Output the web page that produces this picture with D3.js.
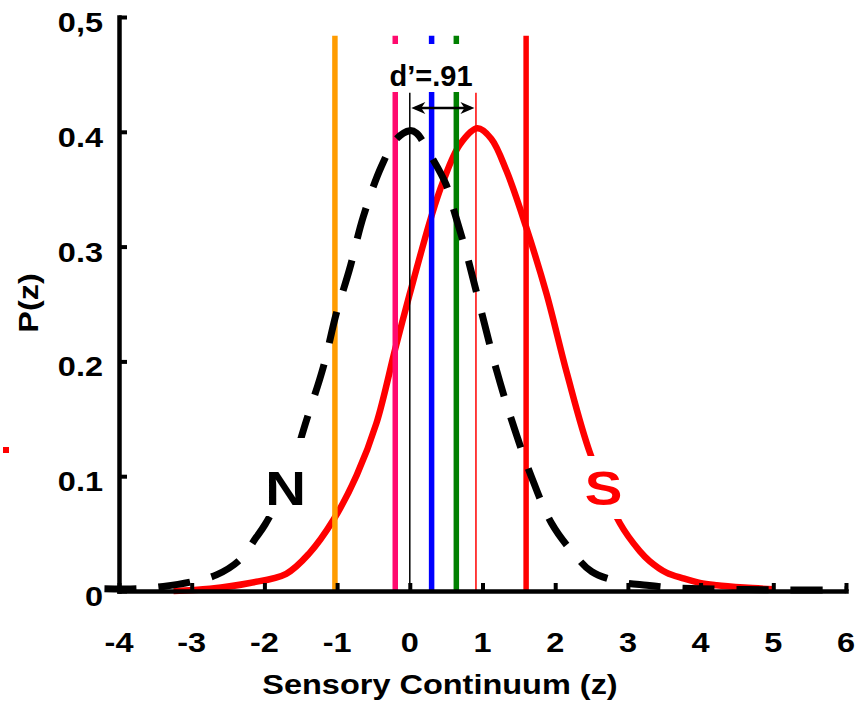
<!DOCTYPE html>
<html lang="en">
  <head>
    <meta charset="UTF-8" />
    <title>Signal detection: N and S distributions</title>
    <script src="https://d3js.org/d3.v7.min.js"></script>
    <style>
      body { margin: 0; background: #fff; }
      text { font-family: "Liberation Sans", Arial, sans-serif; font-weight: bold; }
      .axis path, .axis line { stroke: #000; }
      .axis path { stroke-width: 4.5; stroke-linecap: square; }
      .axis line { stroke-width: 4; }
    </style>
  </head>
  <body>
    <svg width="867" height="704"></svg>
    <script>
      // ticks
      const zTicks = [-4, -3, -2, -1, 0, 1, 2, 3, 4, 5, 6];
      const zTickLabels = ["-4", "-3", "-2", "-1", "0", "1", "2", "3", "4", "5", "6"];
      const pTicks = [0, 0.1, 0.2, 0.3, 0.4, 0.5];
      const pTickLabels = ["0", "0.1", "0.2", "0.3", "0.4", "0,5"];

      // noise distribution (dashed black)
      const nZ = [-4.2, -3.76, -3.39, -3.0, -2.66, -2.34, -2.11, -1.99, -1.7, -1.42, -1.19, -1.01, -0.83, -0.64, -0.39, -0.18, 0.0, 0.09, 0.3, 0.5, 0.6, 0.78, 0.99, 1.19, 1.4, 1.67, 1.95, 2.25, 2.5, 2.89, 3.26, 3.6, 4.0, 5.0, 6.0];
      const nP = [0.002, 0.002, 0.004, 0.008, 0.014, 0.027, 0.047, 0.058, 0.094, 0.149, 0.195, 0.242, 0.28, 0.326, 0.37, 0.394, 0.401, 0.399, 0.378, 0.354, 0.333, 0.294, 0.242, 0.193, 0.149, 0.1, 0.059, 0.033, 0.017, 0.008, 0.005, 0.003, 0.002, 0.001, 0.001];

      // signal distribution (solid red)
      const sZ = [-3.25, -2.75, -2.2, -1.7, -1.38, -1.05, -0.73, -0.46, -0.2, 0.0, 0.3, 0.46, 0.69, 0.93, 1.12, 1.33, 1.6, 1.88, 2.16, 2.48, 2.89, 3.16, 3.3, 3.53, 3.76, 3.99, 4.22, 4.6, 5.0];
      const sP = [0.0, 0.002, 0.007, 0.015, 0.033, 0.062, 0.101, 0.146, 0.211, 0.259, 0.327, 0.357, 0.389, 0.403, 0.394, 0.366, 0.317, 0.259, 0.19, 0.12, 0.059, 0.035, 0.026, 0.016, 0.011, 0.007, 0.005, 0.003, 0.0015];

      // criteria lines
      const criteria = [-1.03, -0.2, 0.3, 0.64, 1.6];
      const criterionColors = ["#ff9c00", "#ff0a6e", "#0000ff", "#008000", "#ff0000"];
      const dPrime = 0.91;

      const svg = d3.select("svg");
      const stretch = 1.16; // glyphs in the source are a bit wider than Arial

      const x = d3.scaleLinear().domain([-4, 6]).range([119, 846]);
      const y = d3.scaleLinear().domain([0, 0.5]).range([591, 17]);

      const line = d3.line()
        .x((d) => x(d[0]))
        .y((d) => y(d[1]))
        .curve(d3.curveCatmullRom.alpha(0.5));

      // S curve
      svg.append("path")
        .attr("d", line(sZ.map((z, i) => [z, sP[i]])))
        .attr("fill", "none")
        .attr("stroke", "#ff0000")
        .attr("stroke-width", 6.5);

      // thick criterion lines
      svg.selectAll(".crit")
        .data(criteria)
        .enter()
        .append("line")
        .attr("class", "crit")
        .attr("x1", (d) => x(d)).attr("x2", (d) => x(d))
        .attr("y1", y(0.4837)).attr("y2", y(0))
        .attr("stroke", (d, i) => criterionColors[i])
        .attr("stroke-width", 5.5);

      // thin mean lines
      [[0, "#000"], [dPrime, "#ff0000"]].forEach(([m, c]) => {
        svg.append("line")
          .attr("x1", x(m)).attr("x2", x(m))
          .attr("y1", y(0.434)).attr("y2", y(0))
          .attr("stroke", c)
          .attr("stroke-width", 1.5);
      });

      // N curve (dashed)
      svg.append("path")
        .attr("d", line(nZ.map((z, i) => [z, nP[i]])))
        .attr("fill", "none")
        .attr("stroke", "#000")
        .attr("stroke-width", 7)
        .attr("stroke-dasharray", "32,22");

      // axes
      svg.append("g")
        .attr("class", "axis")
        .attr("transform", `translate(0,${y(0)})`)
        .call(d3.axisBottom(x).tickValues(zTicks).tickSize(-8).tickSizeOuter(0).tickFormat(""));
      svg.append("g")
        .attr("class", "axis")
        .attr("transform", `translate(${x(-4)},0)`)
        .call(d3.axisLeft(y).tickValues(pTicks).tickSize(-8).tickSizeOuter(0).tickFormat(""));

      // tick labels
      svg.selectAll(".xlab")
        .data(zTicks)
        .enter()
        .append("text")
        .attr("class", "xlab")
        .attr("transform", (d) => `translate(${x(d)},652) scale(${stretch},1)`)
        .attr("text-anchor", "middle")
        .attr("font-size", 28)
        .text((d, i) => zTickLabels[i]);

      svg.selectAll(".ylab")
        .data(pTicks)
        .enter()
        .append("text")
        .attr("class", "ylab")
        .attr("transform", (d) => `translate(103,${y(d) + 15}) scale(${stretch},1)`)
        .attr("text-anchor", "end")
        .attr("font-size", 28)
        .text((d, i) => pTickLabels[i]);

      // axis titles
      svg.append("text")
        .attr("transform", `translate(440,694) scale(${stretch},1)`)
        .attr("text-anchor", "middle")
        .attr("font-size", 28)
        .text("Sensory Continuum (z)");

      svg.append("text")
        .attr("transform", `translate(38,303) rotate(-90) scale(${stretch},1)`)
        .attr("text-anchor", "middle")
        .attr("font-size", 28)
        .text("P(z)");

      // N and S labels on white patches
      svg.append("rect").attr("x", 260).attr("y", 438).attr("width", 52).attr("height", 78).attr("fill", "#fff");
      svg.append("rect").attr("x", 580).attr("y", 456).attr("width", 50).attr("height", 63).attr("fill", "#fff");

      svg.append("text")
        .attr("transform", `translate(285.5,505) scale(1.15,1)`)
        .attr("text-anchor", "middle")
        .attr("font-size", 49)
        .attr("fill", "#000")
        .text("N");

      svg.append("text")
        .attr("transform", `translate(603.5,505) scale(1.15,1)`)
        .attr("text-anchor", "middle")
        .attr("font-size", 49)
        .attr("fill", "#ff0000")
        .text("S");

      // d' label
      svg.append("rect").attr("x", 386).attr("y", 44).attr("width", 89).attr("height", 48).attr("fill", "#fff");
      svg.append("text")
        .attr("x", 431)
        .attr("y", 86)
        .attr("text-anchor", "middle")
        .attr("font-size", 29)
        .text("d\u2019=.91");

      // d' arrow
      const ay = 108;
      const ax1 = x(0) + 1.5;
      const ax2 = x(dPrime) - 1.5;
      svg.append("line")
        .attr("x1", ax1 + 4).attr("x2", ax2 - 4)
        .attr("y1", ay).attr("y2", ay)
        .attr("stroke", "#000").attr("stroke-width", 2.5);
      svg.append("path")
        .attr("d", `M${ax1},${ay} L${ax1 + 14},${ay - 6} L${ax1 + 10},${ay} L${ax1 + 14},${ay + 6} Z`)
        .attr("fill", "#000");
      svg.append("path")
        .attr("d", `M${ax2},${ay} L${ax2 - 14},${ay - 6} L${ax2 - 10},${ay} L${ax2 - 14},${ay + 6} Z`)
        .attr("fill", "#000");

      // small red remnant at the left edge
      svg.append("rect").attr("x", 3).attr("y", 447).attr("width", 6).attr("height", 6).attr("fill", "#ff0000");
    </script>
  </body>
</html>
